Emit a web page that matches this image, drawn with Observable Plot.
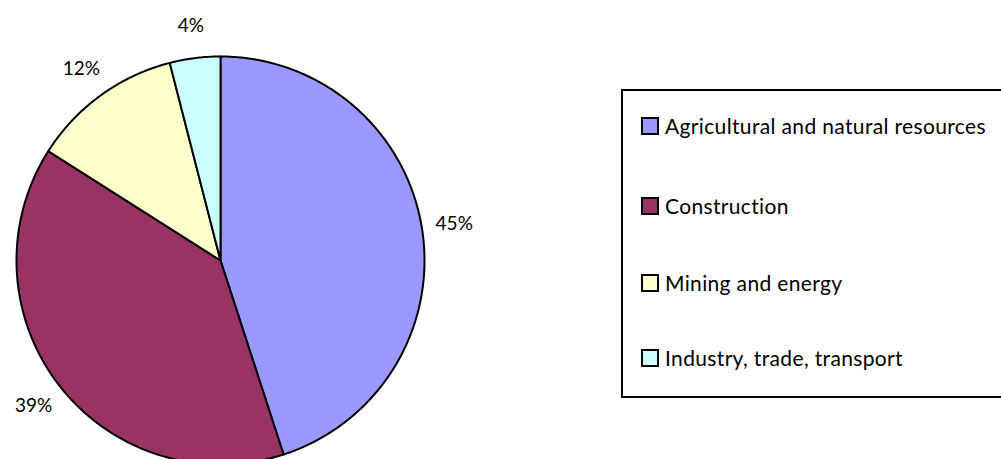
<!DOCTYPE html>
<html>
<head>
<meta charset="utf-8">
<script src="https://cdn.jsdelivr.net/npm/d3@7"></script>
<script src="https://cdn.jsdelivr.net/npm/@observablehq/plot@0.6"></script>
<style>
  html, body { margin: 0; padding: 0; background: #fff; overflow: hidden; }
  #wrap { position: relative; width: 1001px; height: 459px; font-family: Lato, "Open Sans", sans-serif; }
  #legend { position: absolute; left: 621px; top: 89px; width: 400px; height: 305px; border: 2px solid #000; box-sizing: content-box; background: #fff; }
  .item { position: absolute; left: 18px; display: flex; align-items: center; font-size: 21px; letter-spacing: 0.35px; color: #000; white-space: nowrap; }
  .sw { width: 14px; height: 14px; border: 2px solid #000; margin-right: 6px; }
</style>
</head>
<body>
<div id="wrap"></div>
<script>
const categories = ["Agricultural and natural resources", "Construction", "Mining and energy", "Industry, trade, transport"];
const shares = [45, 39, 12, 4];
const labels = ["45%", "39%", "12%", "4%"];
const colors = ["#9999FF", "#993366", "#FFFFCC", "#CCFFFF"];

const W = 1001, H = 459;
const cx = 220, cy = 260, R = 204;

const arcs = d3.pie().sort(null).value(d => d)(shares);
const pts = [];
arcs.forEach((a, i) => {
  const cat = categories[i];
  pts.push({cat, x: 0, y: 0});
  const n = Math.max(2, Math.ceil((a.endAngle - a.startAngle) / (Math.PI / 360)));
  for (let k = 0; k <= n; k++) {
    const t = a.startAngle + (a.endAngle - a.startAngle) * k / n;
    pts.push({cat, x: Math.sin(t), y: Math.cos(t)});
  }
});
const lab = arcs.map((a, i) => {
  const m = (a.startAngle + a.endAngle) / 2;
  const r = 1.16;
  return {label: labels[i], x: r * Math.sin(m), y: r * Math.cos(m)};
});

const plot = Plot.plot({
  width: W, height: H,
  margin: 0,
  x: {domain: [-cx / R, (W - cx) / R], axis: null},
  y: {domain: [-(H - cy) / R, cy / R], axis: null},
  color: {domain: categories, range: colors},
  style: {background: "transparent"},
  marks: [
    Plot.line(pts, {x: "x", y: "y", z: "cat", fill: "cat", stroke: "#000", strokeWidth: 2, strokeLinejoin: "round", curve: "linear-closed"}),
    Plot.text(lab, {x: "x", y: "y", text: "label", fontSize: 19, fill: "#000", fontFamily: "Lato, 'Open Sans', sans-serif"})
  ]
});
const wrap = document.getElementById("wrap");
wrap.appendChild(plot);

const legend = document.createElement("div");
legend.id = "legend";
const rowTops = [34, 114, 191, 266];
categories.forEach((c, i) => {
  const it = document.createElement("div");
  it.className = "item";
  it.style.top = (rowTops[i] - 12) + "px";
  const sw = document.createElement("div");
  sw.className = "sw";
  sw.style.background = colors[i];
  const tx = document.createElement("span");
  tx.textContent = c;
  it.appendChild(sw);
  it.appendChild(tx);
  legend.appendChild(it);
});
wrap.appendChild(legend);
</script>
</body>
</html>
